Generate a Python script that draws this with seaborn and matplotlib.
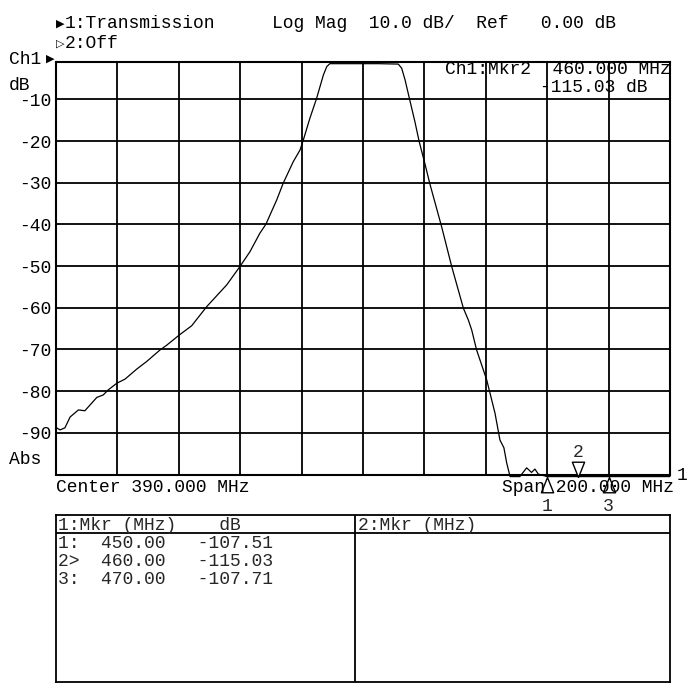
import numpy as np
import pandas as pd
import seaborn as sns
import matplotlib.pyplot as plt
from matplotlib.transforms import offset_copy

# trace (MHz, dB)
freq_mhz = [290.0, 291.3, 292.9, 294.6, 297.3, 299.4, 301.1, 303.3, 305.4, 307.0,
            309.8, 312.5, 316.3, 319.5, 323.9, 326.0, 330.2, 334.2, 339.1, 345.6,
            349.9, 353.2, 356.4, 358.4, 360.2, 361.9, 364.0, 367.3, 369.5, 370.4,
            372.7, 374.9, 377.1, 378.2, 379.2, 385.0, 395.0, 401.5, 402.6, 403.7,
            405.1, 406.9, 408.3, 410.2, 411.8, 415.6, 418.9, 422.7, 424.3, 425.4,
            427.0, 430.3, 433.0, 434.6, 435.9, 436.8, 437.9, 441.1, 443.3, 444.9,
            446.0, 447.1, 450.0, 455.0, 460.0, 465.0, 470.0, 480.0, 490.0]
trans_db = [-88.7, -89.3, -88.8, -86.2, -84.5, -84.7, -83.3, -81.5, -80.9, -79.7,
            -78.1, -77.1, -74.7, -72.9, -70.1, -69.0, -66.5, -64.3, -59.7, -54.5,
            -50.1, -46.5, -42.1, -39.9, -36.9, -34.1, -30.1, -24.9, -22.1, -20.1,
            -14.5, -9.7, -4.1, -2.1, -1.4, -1.4, -1.4, -1.5, -2.5, -5.3,
            -9.7, -15.3, -20.1, -25.5, -30.3, -40.5, -50.1, -60.1, -62.9, -65.3,
            -70.1, -77.3, -85.3, -91.7, -93.6, -97.2, -101.0, -101.0, -98.4, -99.5,
            -98.7, -99.9, -107.5, -110.0, -115.0, -110.0, -107.7, -106.0, -105.0]

mkr_num = [1, 2, 3]
mkr_freq = [450.00, 460.00, 470.00]
mkr_db = [-107.51, -115.03, -107.71]
active_mkr = 2

y_ticks = list(range(-90, 0, 10))
x_ticks = list(range(290, 491, 20))

W, H = 700, 700
sns.set_theme(style="white")
plt.rcParams['font.family'] = ['Liberation Mono', 'DejaVu Sans Mono', 'DejaVu Sans']
FS = 13

fig = plt.figure(figsize=(W / 100, H / 100), dpi=100)


def fx(x):
    return x / W


def fy(y):
    return 1 - y / H


ax = fig.add_axes([fx(56), fy(474.5), (670 - 56) / W, (474.5 - 62) / H])

bottom = -100.5
df = pd.DataFrame({"f": freq_mhz, "db": np.clip(trans_db, bottom, None)})
sns.lineplot(data=df, x="f", y="db", ax=ax, color="black", lw=0.9, clip_on=False)

ax.set_xlim(290, 490)
ax.set_ylim(-100, -1.0)
ax.set_xticks(x_ticks)
ax.set_xticklabels([])
ax.set_yticks(y_ticks)
ax.set_yticklabels(["-%d" % abs(v) for v in y_ticks], fontsize=FS)
ax.tick_params(length=0, pad=3, colors="black")
ax.grid(True, color="black", lw=1.3)
ax.set_xlabel("")
ax.set_ylabel("")
for s in ax.spines.values():
    s.set_color("black")
    s.set_linewidth(1.5)

# markers: apex sits on the (clipped) trace
up = [(0, 0), (-0.4, -1), (0.4, -1), (0, 0)]
down = [(0, 0), (-0.4, 1), (0.4, 1), (0, 0)]
for n, f, v in zip(mkr_num, mkr_freq, mkr_db):
    yv = max(v, bottom)
    if n == active_mkr:
        ax.plot([f], [yv], marker=down, ms=22, mfc="white", mec="black", mew=1.0,
                clip_on=False, zorder=5)
        ax.text(f, yv, str(n), fontsize=FS, ha="center", va="center",
                transform=offset_copy(ax.transData, fig, x=0, y=24, units="dots"))
    else:
        ax.plot([f], [yv], marker=up, ms=22, mfc="none", mec="black", mew=1.0,
                clip_on=False, zorder=5)
        ax.text(f, yv, str(n), fontsize=FS, ha="center", va="center",
                transform=offset_copy(ax.transData, fig, x=0, y=-30, units="dots"))

# screen annotations
def t(x, y, s, **kw):
    kw.setdefault("fontsize", FS)
    kw.setdefault("va", "center")
    fig.text(fx(x), fy(y), s, color="black", **kw)


t(56, 24, "\u25b6", fontsize=8, family="DejaVu Sans")
t(65, 24, "1:Transmission")
t(272, 24, "Log Mag  10.0 dB/  Ref   0.00 dB")
t(56, 44, "\u25b7", fontsize=8, family="DejaVu Sans")
t(65, 44, "2:Off")
t(9, 59, "Ch1")
t(46, 59, "\u25b6", fontsize=8, family="DejaVu Sans")
t(9, 86, "dB")
t(9, 460, "Abs")
t(56, 487, "Center 390.000 MHz")
t(502, 487, "Span 200.000 MHz")
t(677, 476, "1")

i_act = mkr_num.index(active_mkr)
t(445, 70, "Ch1:Mkr%d  %.3f MHz" % (active_mkr, mkr_freq[i_act]))
t(540, 88, "%.2f dB" % mkr_db[i_act])

# marker table
tab = fig.add_axes([fx(56), fy(682), (670 - 56) / W, (682 - 515) / H])
tab.set_xlim(56, 670)
tab.set_ylim(682, 515)
tab.set_xticks([])
tab.set_yticks([])
tab.set_facecolor("white")
for s in tab.spines.values():
    s.set_color("black")
    s.set_linewidth(1.3)
tab.axvline(355, color="black", lw=1.3)
tab.axhline(533, color="black", lw=1.3)
tab.text(58, 525, "1:Mkr (MHz)    dB", fontsize=FS, va="center")
tab.text(358, 525, "2:Mkr (MHz)", fontsize=FS, va="center")
for k, (n, f, v) in enumerate(zip(mkr_num, mkr_freq, mkr_db)):
    sep = ">" if n == active_mkr else ":"
    tab.text(58, 543 + k * 18.5, "%d%s  %.2f   %.2f" % (n, sep, f, v),
             fontsize=FS, va="center")

fig.savefig("out.png", dpi=100, facecolor="white")
